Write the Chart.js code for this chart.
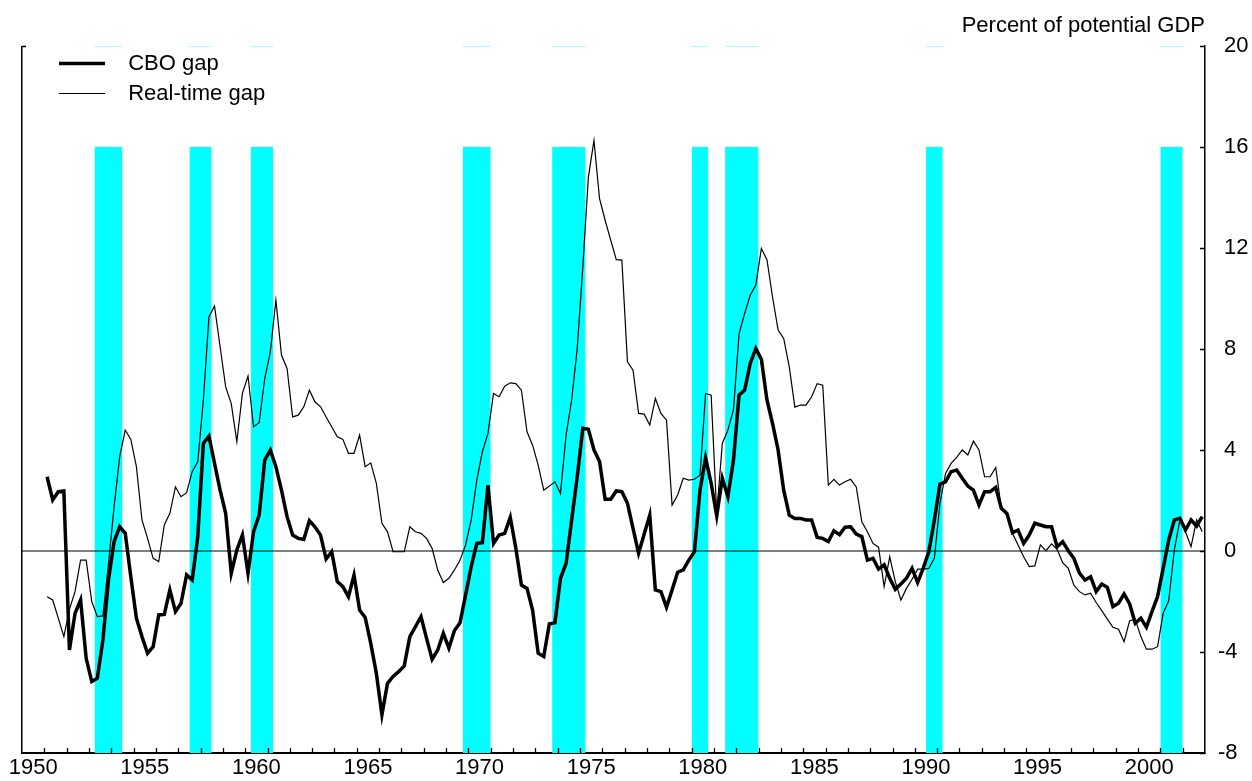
<!DOCTYPE html>
<html>
<head>
<meta charset="utf-8">
<title>Output gap: CBO vs real-time</title>
<script src="https://cdn.jsdelivr.net/npm/chart.js@4.4.1/dist/chart.umd.min.js"></script>
<style>
  html, body { margin: 0; padding: 0; background: #ffffff; }
  canvas { display: block; }
</style>
</head>
<body>
<canvas id="gapChart" width="1252" height="781"></canvas>
<script>
// Quarterly series, 1951Q1 .. 2002Q4 (percent of potential GDP)
const firstYear = 1951;

const cboGap = [
  2.94, 2.02, 2.35, 2.38,     // 1951
  -3.92, -2.47, -1.94, -4.25, // 1952
  -5.17, -5.04, -3.52, -1.15, // 1953
  0.37, 0.96, 0.70, -1.02,    // 1954
  -2.66, -3.39, -4.05, -3.79, // 1955
  -2.53, -2.51, -1.54, -2.40, // 1956
  -2.07, -0.95, -1.15, 0.57,  // 1957
  4.26, 4.55, 3.47, 2.41,     // 1958
  1.49, -0.88, 0.04, 0.63,    // 1959
  -0.88, 0.76, 1.42, 3.60,    // 1960
  4.00, 3.34, 2.41, 1.36,     // 1961
  0.63, 0.50, 0.46, 1.20,     // 1962
  0.96, 0.63, -0.32, -0.03,   // 1963
  -1.21, -1.41, -1.81, -0.95, // 1964
  -2.34, -2.63, -3.66, -4.84, // 1965
  -6.49, -5.24, -4.97, -4.78, // 1966
  -4.55, -3.39, -3.00, -2.60, // 1967
  -3.46, -4.29, -3.92, -3.26, // 1968
  -3.85, -3.15, -2.84, -1.74, // 1969
  -0.62, 0.30, 0.33, 2.61,    // 1970
  0.30, 0.63, 0.70, 1.33,     // 1971
  0.11, -1.35, -1.48, -2.34,  // 1972
  -4.05, -4.18, -2.89, -2.84, // 1973
  -1.08, -0.49, 1.23, 2.94,   // 1974
  4.86, 4.82, 4.00, 3.54,     // 1975
  2.05, 2.05, 2.38, 2.35,     // 1976
  1.89, 0.90, -0.09, 0.67,    // 1977
  1.42, -1.54, -1.61, -2.23,  // 1978
  -1.54, -0.84, -0.75, -0.36, // 1979
  -0.03, 2.41, 3.69, 2.68,    // 1980
  1.39, 2.88, 2.15, 3.60,     // 1981
  6.17, 6.37, 7.43, 8.02,     // 1982
  7.59, 5.98, 5.05, 4.00,     // 1983
  2.41, 1.42, 1.29, 1.29,     // 1984
  1.23, 1.23, 0.54, 0.50,     // 1985
  0.37, 0.80, 0.65, 0.94,     // 1986
  0.96, 0.67, 0.57, -0.36,    // 1987
  -0.29, -0.72, -0.55, -1.08, // 1988
  -1.52, -1.31, -1.08, -0.69, // 1989
  -1.25, -0.69, -0.03, 1.23,  // 1990
  2.65, 2.74, 3.14, 3.21,     // 1991
  2.88, 2.57, 2.41, 1.82,     // 1992
  2.35, 2.35, 2.52, 1.69,     // 1993
  1.49, 0.72, 0.83, 0.30,     // 1994
  0.63, 1.10, 1.03, 0.96,     // 1995
  0.96, 0.17, 0.37, 0.01,     // 1996
  -0.29, -0.88, -1.15, -1.02, // 1997
  -1.61, -1.31, -1.44, -2.20, // 1998
  -2.07, -1.70, -2.10, -2.86, // 1999
  -2.66, -3.02, -2.40, -1.81, // 2000
  -0.69, 0.44, 1.23, 1.29,    // 2001
  0.83, 1.23, 0.99, 1.36      // 2002
];

const realTimeGap = [
  -1.81, -1.94, -2.66, -3.39, // 1951
  -2.31, -1.61, -0.36, -0.36, // 1952
  -2.00, -2.60, -2.57, -0.50, // 1953
  1.75, 3.73, 4.79, 4.42,     // 1954
  3.34, 1.23, 0.50, -0.29,    // 1955
  -0.42, 1.03, 1.49, 2.54,    // 1956
  2.15, 2.31, 3.14, 3.53,     // 1957
  5.98, 9.27, 9.70, 8.09,     // 1958
  6.50, 5.84, 4.33, 6.24,     // 1959
  6.93, 4.92, 5.08, 6.83,     // 1960
  7.89, 9.93, 7.76, 7.23,     // 1961
  5.31, 5.38, 5.71, 6.37,     // 1962
  5.91, 5.71, 5.31, 4.92,     // 1963
  4.52, 4.42, 3.87, 3.87,     // 1964
  4.59, 3.34, 3.49, 2.68,     // 1965
  1.10, 0.76, -0.03, -0.03,   // 1966
  -0.03, 0.96, 0.76, 0.70,    // 1967
  0.50, 0.10, -0.75, -1.25,   // 1968
  -1.08, -0.75, -0.36, 0.24,  // 1969
  1.23, 2.81, 3.93, 4.66,     // 1970
  6.24, 6.11, 6.53, 6.66,     // 1971
  6.63, 6.37, 4.72, 4.19,     // 1972
  3.40, 2.41, 2.57, 2.74,     // 1973
  2.28, 4.59, 5.98, 8.02,     // 1974
  11.25, 14.81, 16.26, 13.95, // 1975
  13.10, 12.31, 11.54, 11.52, // 1976
  7.49, 7.16, 5.45, 5.42,     // 1977
  4.99, 6.04, 5.45, 5.18,     // 1978
  1.82, 2.22, 2.88, 2.81,     // 1979
  2.84, 3.00, 6.24, 6.17,     // 1980
  1.49, 4.26, 4.79, 5.60,     // 1981
  8.60, 9.41, 10.13, 10.53,   // 1982
  11.98, 11.54, 10.06, 8.75,  // 1983
  8.42, 7.29, 5.70, 5.78,     // 1984
  5.78, 6.11, 6.63, 6.57,     // 1985
  2.61, 2.84, 2.61, 2.74,     // 1986
  2.84, 2.54, 1.16, 0.76,     // 1987
  0.30, 0.15, -1.41, -0.23,   // 1988
  -1.21, -1.94, -1.48, -1.12, // 1989
  -0.72, -0.72, -0.69, -0.29, // 1990
  1.89, 3.07, 3.47, 3.71,     // 1991
  4.00, 3.80, 4.35, 4.00,     // 1992
  2.94, 2.94, 3.31, 1.69,     // 1993
  1.42, 0.70, 0.24, -0.23,    // 1994
  -0.62, -0.59, 0.24, 0.01,   // 1995
  0.28, 0.07, -0.46, -0.69,   // 1996
  -1.35, -1.61, -1.74, -1.67, // 1997
  -2.04, -2.36, -2.70, -3.02, // 1998
  -3.10, -3.59, -2.76, -2.70, // 1999
  -3.39, -3.89, -3.89, -3.79, // 2000
  -2.47, -1.97, 0.04, 1.23,   // 2001
  0.76, 0.17, 1.23, 0.76      // 2002
];

// Recession periods (decimal years, start and end of shading)
const recessionStart = [1953.25, 1957.5, 1960.25, 1969.75, 1973.75, 1980.0, 1981.5, 1990.5, 2001.0];
const recessionEnd   = [1954.5,  1958.5, 1961.25, 1971.0,  1975.25, 1980.75, 1983.0, 1991.25, 2002.0];

const seriesNames = ['CBO gap', 'Real-time gap'];
const unitLabel = 'Percent of potential GDP';
const xLabelYears = [1950, 1955, 1960, 1965, 1970, 1975, 1980, 1985, 1990, 1995, 2000];
const yTickValues = [-8, -4, 0, 4, 8, 12, 16, 20];
const xMin = 1950, xMax = 2003, yMin = -8, yMax = 20, shadeTop = 16;

// Each quarter is plotted at its mid point
const quarterX = i => firstYear + Math.floor(i / 4) + ((i % 4) + 0.5) / 4;
const toPoints = arr => arr.map((v, i) => ({ x: quarterX(i), y: v }));

const textFont = { family: '"Liberation Sans", Arial, Helvetica, sans-serif', size: 22, weight: 'normal' };

// Shaded recession blocks: filled from the bottom of the scale up to 16
const recessionSets = recessionStart.map((s, k) => ({
  label: 'recession',
  data: [{ x: s, y: shadeTop }, { x: recessionEnd[k], y: shadeTop }],
  borderColor: 'rgba(0,0,0,0)',
  borderWidth: 0,
  backgroundColor: '#00ffff',
  fill: { value: yMin },
  pointRadius: 0
}));

// Faint cyan caps along the top edge of the frame
const capPoints = [];
recessionStart.forEach((s, k) => {
  capPoints.push({ x: s, y: yMax }, { x: recessionEnd[k], y: yMax },
                 { x: (recessionEnd[k] + (recessionStart[k + 1] || xMax)) / 2, y: null });
});

// Inward tick marks on the frame
const frameTicks = {
  id: 'frameTicks',
  afterDraw(chart) {
    const { ctx, chartArea: a } = chart;
    const xs = chart.scales.x, ys = chart.scales.y;
    ctx.save();
    ctx.strokeStyle = '#000';
    ctx.lineWidth = 1.3;
    ctx.beginPath();
    for (let yr = xMin + 1; yr < xMax; yr++) {
      const px = Math.round(xs.getPixelForValue(yr)) + 0.5;
      ctx.moveTo(px, a.bottom);
      ctx.lineTo(px, a.bottom - 5);
    }
    yTickValues.forEach(v => {
      const py = Math.round(ys.getPixelForValue(v)) + 0.5;
      ctx.moveTo(a.right, py);
      ctx.lineTo(a.right - 5, py);
    });
    const topY = Math.round(ys.getPixelForValue(yMax)) + 0.5;
    ctx.moveTo(a.left, topY);
    ctx.lineTo(a.left + 4, topY);
    ctx.stroke();
    ctx.restore();
  }
};

// Place the legend block inside the plot, clear of the frame
const legendPlacement = {
  id: 'legendPlacement',
  afterLayout(chart) {
    const lg = chart.legend, a = chart.chartArea;
    if (lg) {
      lg.left = a.left + 29;
      lg.top = a.top - 1.5;
      lg.bottom = a.bottom;
      lg.right = a.right;
    }
  }
};

new Chart(document.getElementById('gapChart'), {
  type: 'line',
  data: {
    datasets: [
      { label: seriesNames[0], data: toPoints(cboGap), borderColor: '#000', borderWidth: 3.5, pointRadius: 0, fill: false, tension: 0 },
      { label: seriesNames[1], data: toPoints(realTimeGap), borderColor: '#000', borderWidth: 1.2, pointRadius: 0, fill: false, tension: 0 },
      { label: 'zero', data: [{ x: xMin, y: 0 }, { x: xMax, y: 0 }], borderColor: '#000', borderWidth: 1.2, pointRadius: 0, fill: false },
      ...recessionSets,
      { label: 'recession-cap', data: capPoints, borderColor: 'rgba(0,255,255,0.35)', borderWidth: 2, pointRadius: 0, fill: false, spanGaps: false }
    ]
  },
  options: {
    responsive: false,
    devicePixelRatio: 1,
    animation: false,
    events: [],
    layout: { padding: { left: 22, right: 0, top: 0, bottom: 0 } },
    scales: {
      x: {
        type: 'linear',
        position: 'bottom',
        min: xMin,
        max: xMax,
        // the grid line at the first value forms the left side of the frame
        grid: {
          display: true,
          drawTicks: false,
          lineWidth: 1.5,
          color: c => (c.tick && c.tick.value === xMin) ? '#000' : 'rgba(0,0,0,0)'
        },
        border: { display: true, color: '#000', width: 2 },
        afterBuildTicks: s => {
          s.ticks = [{ value: xMin }].concat(xLabelYears.map(y => ({ value: y + 0.5 })));
        },
        ticks: {
          autoSkip: false,
          maxRotation: 0,
          color: '#000',
          font: textFont,
          padding: 2,
          callback: v => (Number.isInteger(v) ? '' : String(Math.floor(v)))
        },
        afterFit: s => { s.height = 28; }
      },
      y: {
        type: 'linear',
        position: 'right',
        min: yMin,
        max: yMax,
        afterBuildTicks: s => { s.ticks = yTickValues.map(v => ({ value: v })); },
        grid: { display: false, drawTicks: false },
        border: { display: true, color: '#000', width: 1.5 },
        ticks: {
          color: '#000',
          font: textFont,
          padding: 13,
          callback: v => (v < 0 ? '' : ' ') + v
        },
        afterFit: s => { s.width = 47; }
      }
    },
    plugins: {
      tooltip: { enabled: false },
      title: {
        display: true,
        text: unitLabel,
        position: 'top',
        align: 'end',
        fullSize: false,
        color: '#000',
        font: textFont,
        padding: { top: 13, bottom: 6.6 }
      },
      legend: {
        position: 'chartArea',
        align: 'start',
        labels: {
          usePointStyle: true,
          pointStyle: 'line',
          pointStyleWidth: 46,
          padding: 8,
          color: '#000',
          font: textFont,
          generateLabels: chart => Chart.defaults.plugins.legend.labels.generateLabels(chart)
            .filter(item => item.datasetIndex < seriesNames.length)
            .map(item => Object.assign(item, { text: '  ' + item.text }))
        }
      }
    }
  },
  plugins: [frameTicks, legendPlacement]
});
</script>
</body>
</html>
